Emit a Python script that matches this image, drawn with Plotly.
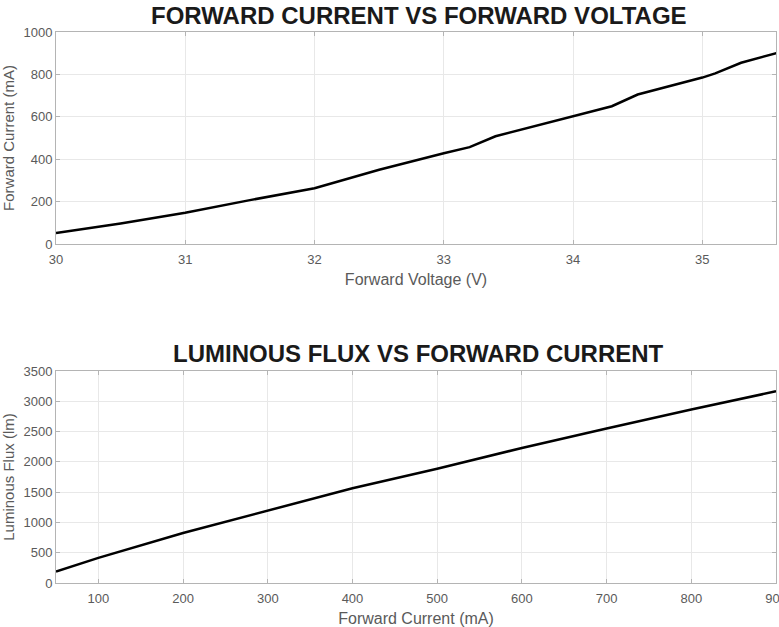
import plotly.graph_objects as go

# Forward current vs forward voltage
voltage_v = [30.0, 30.5, 31.0, 31.5, 32.0, 32.5, 33.0, 33.2, 33.4, 34.0, 34.3, 34.5, 35.0, 35.1, 35.3, 35.6]
current_ma = [52, 97, 147, 207, 263, 350, 428, 457, 508, 602, 650, 705, 785, 805, 855, 905]

# Luminous flux vs forward current
flux_current_ma = [50, 100, 200, 300, 400, 500, 600, 700, 800, 900]
flux_lm = [190, 415, 825, 1195, 1565, 1885, 2230, 2550, 2865, 3165]

W, H = 779, 627
L, R = 56, 776

def ydom(top, bottom):
    return [1 - bottom / H, 1 - top / H]

fig = go.Figure()
fig.add_trace(go.Scatter(x=voltage_v, y=current_ma, mode="lines",
                         line=dict(color="black", width=2.5), xaxis="x", yaxis="y", showlegend=False))
fig.add_trace(go.Scatter(x=flux_current_ma, y=flux_lm, mode="lines",
                         line=dict(color="black", width=2.5), xaxis="x2", yaxis="y2", showlegend=False))

FONT = "Liberation Sans, Arial, sans-serif"
tickfont = dict(family=FONT, size=13, color="#5a5a5a")
xtitlefont = dict(family=FONT, size=16, color="#5a5a5a")
ytitlefont = dict(family=FONT, size=15, color="#5a5a5a")
common = dict(showline=True, linecolor="#b4b4b4", linewidth=1, mirror="allticks",
              ticks="inside", ticklen=4, tickcolor="#b4b4b4",
              showgrid=True, gridcolor="#e8e8e8", gridwidth=1, zeroline=False,
              tickfont=tickfont, automargin=False)
xcommon = dict(common, ticklabelstandoff=3, ticklabeloverflow="allow")

fig.update_layout(
    width=W, height=H,
    margin=dict(l=L, r=W - R, t=0, b=0, autoexpand=False),
    paper_bgcolor="white", plot_bgcolor="white",
    xaxis=dict(domain=[0, 1], anchor="y", range=[30, 35.57], tickvals=[30, 31, 32, 33, 34, 35],
               title=dict(text="Forward Voltage (V)", font=xtitlefont, standoff=8), **xcommon),
    yaxis=dict(domain=ydom(32, 244), anchor="x", range=[0, 1000], tickvals=[0, 200, 400, 600, 800, 1000],
               title=dict(text="Forward Current (mA)", font=ytitlefont, standoff=5), **common),
    xaxis2=dict(domain=[0, 1], anchor="y2", range=[50, 900], tickvals=[100, 200, 300, 400, 500, 600, 700, 800, 900],
                title=dict(text="Forward Current (mA)", font=xtitlefont, standoff=8), **xcommon),
    yaxis2=dict(domain=ydom(371, 583), anchor="x2", range=[0, 3500],
                tickvals=[0, 500, 1000, 1500, 2000, 2500, 3000, 3500],
                title=dict(text="Luminous Flux (lm)", font=ytitlefont, standoff=5), **common),
    annotations=[
        dict(text="<b>FORWARD CURRENT VS FORWARD VOLTAGE</b>", x=419, y=H - 15, xref="paper", yref="paper",
             showarrow=False, font=dict(family=FONT, size=24, color="#1a1a1a")),
        dict(text="<b>LUMINOUS FLUX VS FORWARD CURRENT</b>", x=418, y=H - 353, xref="paper", yref="paper",
             showarrow=False, font=dict(family=FONT, size=24, color="#1a1a1a")),
    ],
)
# convert pixel annotation positions to paper fractions
pw = R - L
for a in fig.layout.annotations:
    a.x = (a.x - L) / pw
    a.y = a.y / H
    a.xanchor = "center"
    a.yanchor = "middle"

fig.write_html("out.html", config={"displayModeBar": False},
               post_script="document.body.style.margin='0';document.body.style.overflow='hidden';")
